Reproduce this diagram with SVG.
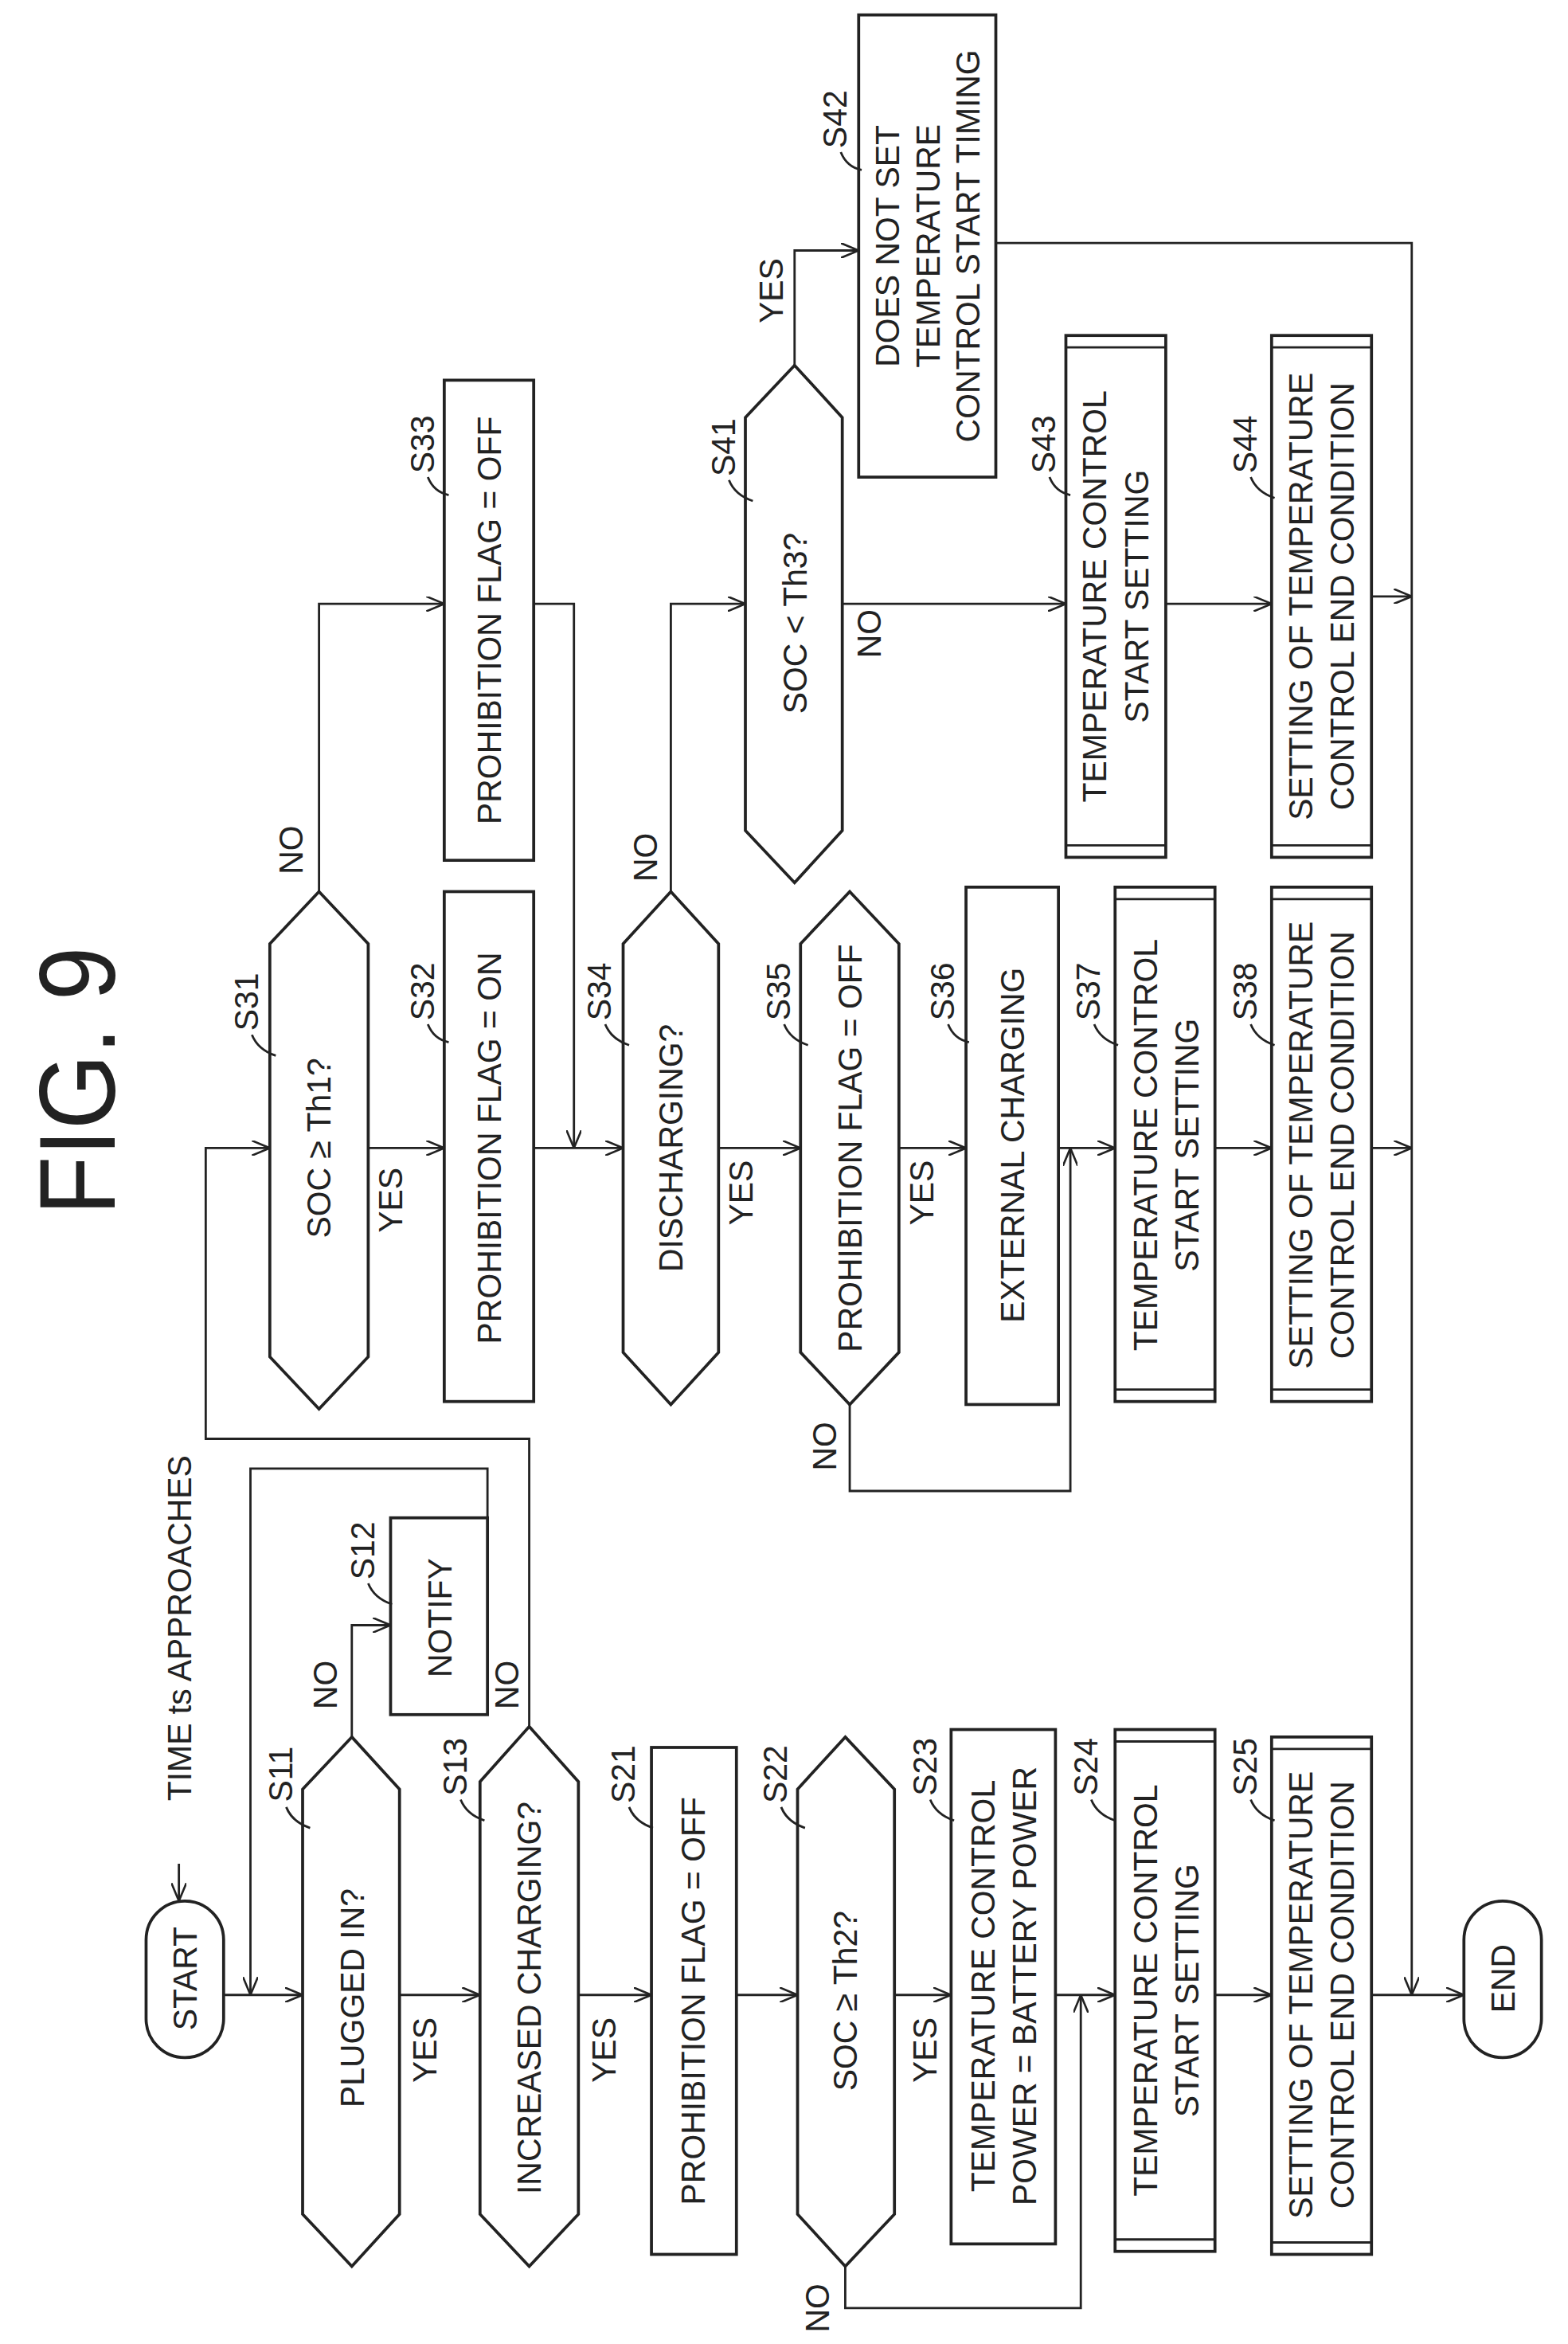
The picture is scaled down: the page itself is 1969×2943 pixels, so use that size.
<svg xmlns="http://www.w3.org/2000/svg" width="1969" height="2943" viewBox="0 0 1969 2943">
<defs>
<marker id="ar" viewBox="0 0 12 10" refX="12" refY="5" markerWidth="12" markerHeight="10" markerUnits="userSpaceOnUse" orient="auto">
<path d="M0,0 L12,5 L0,10" fill="none" stroke="#222" stroke-width="1.4"/>
</marker>
</defs>
<style>
.s{fill:#fff;stroke:#222;stroke-width:2}
.l{fill:none;stroke:#222;stroke-width:1.5}
.c{fill:none;stroke:#222;stroke-width:1.5;marker-end:url(#ar)}
text{font-family:"Liberation Sans",Arial,sans-serif;font-size:23px;fill:#222;text-anchor:middle;dominant-baseline:central}
.f{font-size:72px}
</style>
<rect width="1969" height="2943" fill="#fff"/>
<g transform="scale(1.872)">
<text class="f" transform="translate(52,725) rotate(-90) scale(0.9,1)">FIG. 9</text>

<g id="connectors">
<path class="c" d="M150,1338H203"/>
<path class="c" d="M268,1338H322"/>
<path class="c" d="M388,1338H437"/>
<path class="c" d="M494,1338H535"/>
<path class="c" d="M600,1338H638"/>
<path class="c" d="M708,1338H748"/>
<path class="c" d="M815,1338H853"/>
<path class="c" d="M920,1338H982"/>
<path class="c" d="M247,770H298"/>
<path class="c" d="M358,770H418"/>
<path class="c" d="M482,770H537"/>
<path class="c" d="M603,770H648"/>
<path class="c" d="M710,770H748"/>
<path class="c" d="M815,770H853"/>
<path class="c" d="M920,770H947"/>
<path class="c" d="M565,405H715"/>
<path class="c" d="M782,405H853"/>
<path class="c" d="M920,400H947"/>
<path class="c" d="M533,245V168H576"/>
<path class="c" d="M668,163H947V1338"/>
<path class="c" d="M236,1165V1090H262"/>
<path class="c" d="M327,1080V985H168V1338"/>
<path class="c" d="M355,1158V965H138V770H181"/>
<path class="c" d="M214,598V405H298"/>
<path class="c" d="M358,405H385V770"/>
<path class="c" d="M450,598V405H500"/>
<path class="c" d="M570,942V1000H718V770"/>
<path class="c" d="M567,1520V1548H725V1338"/>
<path class="c" d="M120,1250V1275"/>
</g>

<g id="START"><rect class="s" x="98" y="1275" width="52" height="105" rx="26"/><text transform="translate(124,1327) rotate(-90) scale(0.95,1)">START</text></g>
<g id="END"><rect class="s" x="982" y="1275" width="52" height="105" rx="26"/><text transform="translate(1008,1327) rotate(-90) scale(0.95,1)">END</text></g>
<text transform="translate(120,1092) rotate(-90) scale(0.95,1)">TIME ts APPROACHES</text>

<g id="S11"><polygon class="s" points="236,1165 268,1200 268,1485 236,1520 203,1485 203,1200"/><text transform="translate(236,1340) rotate(-90) scale(0.95,1)">PLUGGED IN?</text></g>
<g id="S12"><rect class="s" x="262" y="1018" width="65" height="132"/><text transform="translate(295,1085) rotate(-90) scale(0.95,1)">NOTIFY</text></g>
<g id="S13"><polygon class="s" points="355,1158 388,1195 388,1485 355,1520 322,1485 322,1195"/><text transform="translate(355,1340) rotate(-90) scale(0.95,1)">INCREASED CHARGING?</text></g>
<g id="S21"><rect class="s" x="437" y="1172" width="57" height="340"/><text transform="translate(465,1342) rotate(-90) scale(0.95,1)">PROHIBITION FLAG = OFF</text></g>
<g id="S22"><polygon class="s" points="567,1165 600,1200 600,1485 567,1520 535,1485 535,1200"/><text transform="translate(567,1342) rotate(-90) scale(0.95,1)">SOC ≥ Th2?</text></g>
<g id="S23"><rect class="s" x="638" y="1160" width="70" height="345"/><text transform="translate(673,1332) rotate(-90) scale(0.95,1)"><tspan x="0" y="-14">TEMPERATURE CONTROL</tspan><tspan x="0" y="14">POWER = BATTERY POWER</tspan></text></g>
<g id="S24"><rect class="s" x="748" y="1160" width="67" height="350"/><path class="l" d="M748,1168H815M748,1502H815"/><text transform="translate(782,1335) rotate(-90) scale(0.95,1)"><tspan x="0" y="-14">TEMPERATURE CONTROL</tspan><tspan x="0" y="14">START SETTING</tspan></text></g>
<g id="S25"><rect class="s" x="853" y="1165" width="67" height="347"/><path class="l" d="M853,1173H920M853,1504H920"/><text transform="translate(886,1338) rotate(-90) scale(0.95,1)"><tspan x="0" y="-14">SETTING OF TEMPERATURE</tspan><tspan x="0" y="14">CONTROL END CONDITION</tspan></text></g>

<g id="S31"><polygon class="s" points="214,598 247,633 247,910 214,945 181,910 181,633"/><text transform="translate(214,770) rotate(-90) scale(0.95,1)">SOC ≥ Th1?</text></g>
<g id="S32"><rect class="s" x="298" y="598" width="60" height="342"/><text transform="translate(328,770) rotate(-90) scale(0.95,1)">PROHIBITION FLAG = ON</text></g>
<g id="S33"><rect class="s" x="298" y="255" width="60" height="322"/><text transform="translate(328,416) rotate(-90) scale(0.95,1)">PROHIBITION FLAG = OFF</text></g>
<g id="S34"><polygon class="s" points="450,598 482,633 482,907 450,942 418,907 418,633"/><text transform="translate(450,770) rotate(-90) scale(0.95,1)">DISCHARGING?</text></g>
<g id="S35"><polygon class="s" points="570,598 603,633 603,907 570,942 537,907 537,633"/><text transform="translate(570,770) rotate(-90) scale(0.95,1)">PROHIBITION FLAG = OFF</text></g>
<g id="S36"><rect class="s" x="648" y="595" width="62" height="347"/><text transform="translate(679,768) rotate(-90) scale(0.95,1)">EXTERNAL CHARGING</text></g>
<g id="S37"><rect class="s" x="748" y="595" width="67" height="345"/><path class="l" d="M748,603H815M748,932H815"/><text transform="translate(782,768) rotate(-90) scale(0.95,1)"><tspan x="0" y="-14">TEMPERATURE CONTROL</tspan><tspan x="0" y="14">START SETTING</tspan></text></g>
<g id="S38"><rect class="s" x="853" y="595" width="67" height="345"/><path class="l" d="M853,603H920M853,932H920"/><text transform="translate(886,768) rotate(-90) scale(0.95,1)"><tspan x="0" y="-14">SETTING OF TEMPERATURE</tspan><tspan x="0" y="14">CONTROL END CONDITION</tspan></text></g>
<g id="S41"><polygon class="s" points="533,245 565,280 565,557 533,592 500,557 500,280"/><text transform="translate(533,418) rotate(-90) scale(0.95,1)">SOC &lt; Th3?</text></g>
<g id="S42"><rect class="s" x="576" y="10" width="92" height="310"/><text transform="translate(622,165) rotate(-90) scale(0.95,1)"><tspan x="0" y="-27">DOES NOT SET</tspan><tspan x="0" y="0">TEMPERATURE</tspan><tspan x="0" y="27">CONTROL START TIMING</tspan></text></g>
<g id="S43"><rect class="s" x="715" y="225" width="67" height="350"/><path class="l" d="M715,233H782M715,567H782"/><text transform="translate(748,400) rotate(-90) scale(0.95,1)"><tspan x="0" y="-14">TEMPERATURE CONTROL</tspan><tspan x="0" y="14">START SETTING</tspan></text></g>
<g id="S44"><rect class="s" x="853" y="225" width="67" height="350"/><path class="l" d="M853,233H920M853,567H920"/><text transform="translate(886,400) rotate(-90) scale(0.95,1)"><tspan x="0" y="-14">SETTING OF TEMPERATURE</tspan><tspan x="0" y="14">CONTROL END CONDITION</tspan></text></g>

<g id="labels">
<text transform="translate(285,1375) rotate(-90) scale(0.95,1)">YES</text>
<text transform="translate(218,1130) rotate(-90) scale(0.95,1)">NO</text>
<text transform="translate(340,1130) rotate(-90) scale(0.95,1)">NO</text>
<text transform="translate(405,1375) rotate(-90) scale(0.95,1)">YES</text>
<text transform="translate(620,1375) rotate(-90) scale(0.95,1)">YES</text>
<text transform="translate(548,1548) rotate(-90) scale(0.95,1)">NO</text>
<text transform="translate(262,805) rotate(-90) scale(0.95,1)">YES</text>
<text transform="translate(195,570) rotate(-90) scale(0.95,1)">NO</text>
<text transform="translate(497,800) rotate(-90) scale(0.95,1)">YES</text>
<text transform="translate(433,575) rotate(-90) scale(0.95,1)">NO</text>
<text transform="translate(618,800) rotate(-90) scale(0.95,1)">YES</text>
<text transform="translate(553,970) rotate(-90) scale(0.95,1)">NO</text>
<text transform="translate(517,195) rotate(-90) scale(0.95,1)">YES</text>
<text transform="translate(583,425) rotate(-90) scale(0.95,1)">NO</text>
</g>
<g id="steps">
<text transform="translate(188,1190) rotate(-90) scale(0.95,1)">S11</text><path class="l" d="M192,1212q4,10 16,14"/>
<text transform="translate(243,1040) rotate(-90) scale(0.95,1)">S12</text><path class="l" d="M247,1062q4,10 16,14"/>
<text transform="translate(305,1185) rotate(-90) scale(0.95,1)">S13</text><path class="l" d="M309,1207q4,10 16,14"/>
<text transform="translate(418,1190) rotate(-90) scale(0.95,1)">S21</text><path class="l" d="M422,1212q4,10 16,14"/>
<text transform="translate(520,1190) rotate(-90) scale(0.95,1)">S22</text><path class="l" d="M524,1212q4,10 16,14"/>
<text transform="translate(620,1185) rotate(-90) scale(0.95,1)">S23</text><path class="l" d="M624,1207q4,10 16,14"/>
<text transform="translate(728,1185) rotate(-90) scale(0.95,1)">S24</text><path class="l" d="M732,1207q4,10 16,14"/>
<text transform="translate(835,1185) rotate(-90) scale(0.95,1)">S25</text><path class="l" d="M839,1207q4,10 16,14"/>
<text transform="translate(165,672) rotate(-90) scale(0.95,1)">S31</text><path class="l" d="M169,694q4,10 16,14"/>
<text transform="translate(283,665) rotate(-90) scale(0.95,1)">S32</text><path class="l" d="M287,687q4,10 14,12"/>
<text transform="translate(402,665) rotate(-90) scale(0.95,1)">S34</text><path class="l" d="M406,687q4,10 16,14"/>
<text transform="translate(522,665) rotate(-90) scale(0.95,1)">S35</text><path class="l" d="M526,687q4,10 16,14"/>
<text transform="translate(632,665) rotate(-90) scale(0.95,1)">S36</text><path class="l" d="M636,687q4,10 14,12"/>
<text transform="translate(730,665) rotate(-90) scale(0.95,1)">S37</text><path class="l" d="M734,687q4,10 16,14"/>
<text transform="translate(835,665) rotate(-90) scale(0.95,1)">S38</text><path class="l" d="M839,687q4,10 16,14"/>
<text transform="translate(283,298) rotate(-90) scale(0.95,1)">S33</text><path class="l" d="M287,320q4,10 14,12"/>
<text transform="translate(485,300) rotate(-90) scale(0.95,1)">S41</text><path class="l" d="M489,322q4,10 16,14"/>
<text transform="translate(700,298) rotate(-90) scale(0.95,1)">S43</text><path class="l" d="M704,320q4,10 14,12"/>
<text transform="translate(835,298) rotate(-90) scale(0.95,1)">S44</text><path class="l" d="M839,320q4,10 16,14"/>
<text transform="translate(560,80) rotate(-90) scale(0.95,1)">S42</text><path class="l" d="M564,102q4,10 14,12"/>
</g>
</g>
</svg>
